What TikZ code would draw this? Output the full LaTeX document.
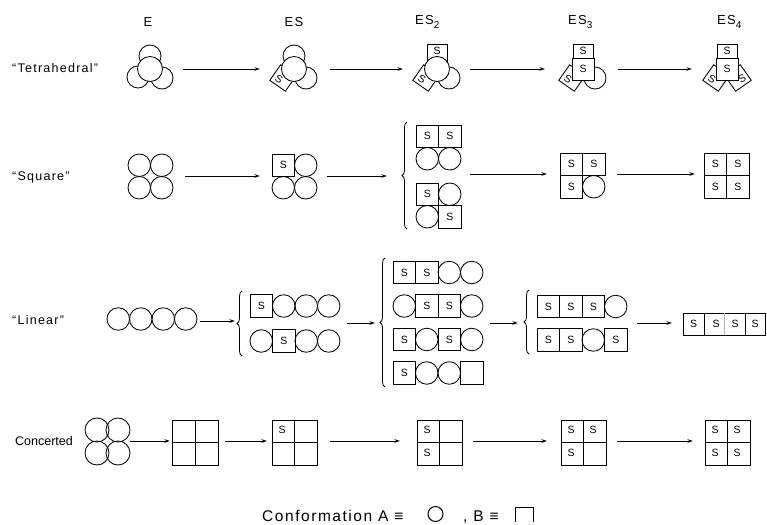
\documentclass[tikz,border=0pt]{standalone}
\usepackage{fontspec}
\setmainfont{Liberation Sans}
\newfontfamily\labfont[LetterSpace=10]{Liberation Sans}
\usetikzlibrary{arrows.meta,decorations.pathreplacing}
\newcounter{sn}
\def\hc{11.25}
\def\rr{11.25}
\tikzset{
 unit/.style={line width=0.85pt},
 slab/.style={font=\fontsize{10.5}{11}\selectfont, inner sep=0pt},
 arr/.style={line width=0.9pt,-{Stealth[length=5.5pt,width=3.5pt]}},
 rowlab/.style={font=\labfont\fontsize{12.5}{14}\selectfont, anchor=west, inner sep=0pt},
 head/.style={font=\labfont\fontsize{13}{15}\selectfont, inner sep=0pt},
 brc/.style={decorate, decoration={brace, amplitude=5pt, aspect=0.5}, line width=0.8pt},
 legtext/.style={font=\labfont\fontsize{15.5}{17}\selectfont, inner sep=0pt, anchor=base west},
}
\newcommand\Snode[2]{\stepcounter{sn}\node[slab] (s\arabic{sn}) at (#1,#2) {S};}
\newcommand\cellA[2]{\draw[unit] (#1,#2) circle[radius=\rr];}
\newcommand\cellB[2]{\draw[unit] ({#1-\hc},{#2-\hc}) rectangle ({#1+\hc},{#2+\hc});\Snode{#1}{#2}}
\newcommand\cellE[2]{\draw[unit] ({#1-\hc},{#2-\hc}) rectangle ({#1+\hc},{#2+\hc});}
\newcommand\chain[3]{\foreach \t [count=\i] in {#3}{\pgfmathsetmacro\xx{#1+(\i-0.5)*22.5}\csname cell\t\endcsname{\xx}{#2}}}
\newcommand\quadr[6]{%
 \pgfmathsetmacro\qxa{#1+11.25}\pgfmathsetmacro\qxb{#1+33.75}%
 \pgfmathsetmacro\qya{#2+11.25}\pgfmathsetmacro\qyb{#2+33.75}%
 \csname cell#3\endcsname{\qxa}{\qya}\csname cell#4\endcsname{\qxb}{\qya}%
 \csname cell#5\endcsname{\qxa}{\qyb}\csname cell#6\endcsname{\qxb}{\qyb}}
\newcommand\tetra[6]{%
 \begin{scope}[shift={(#1,#2)}]
 \ifx A#4\draw[unit,fill=white] (0,-13) circle[radius=11];\else\draw[unit,fill=white] (-10,-25) rectangle (10,-5);\Snode{0}{-18.5}\fi
 \ifx A#5\draw[unit,fill=white] (-12,8) circle[radius=11];\else\draw[unit,fill=white,shift={(-11,9)},rotate=-35] (-9.5,-9.5) rectangle (9.5,9.5);\stepcounter{sn}\node[slab,rotate=-30] (s\arabic{sn}) at (-15,10) {S};\fi
 \ifx A#6\draw[unit,fill=white] (12,9) circle[radius=11];\else\draw[unit,fill=white,shift={(11,9)},rotate=35] (-9.5,-9.5) rectangle (9.5,9.5);\stepcounter{sn}\node[slab,rotate=30] (s\arabic{sn}) at (15,10) {S};\fi
 \ifx A#3\draw[unit,fill=white] (0,0) circle[radius=12.5];\else\draw[unit,fill=white] (-11,-11) rectangle (11,11);\Snode{0}{0}\fi
 \end{scope}}
\newcommand\grid[6]{%
 \draw[unit] (#1,#2) rectangle ({#1+45.5},{#2+45.5});
 \draw[unit] ({#1+22.75},#2) -- ({#1+22.75},{#2+45.5});
 \draw[unit] (#1,{#2+22.75}) -- ({#1+45.5},{#2+22.75});
 \foreach \lab/\dx/\dy in {#3/10/10,#4/32/10,#5/10/33,#6/32/33}{\stepcounter{sn}\node[slab] (s\arabic{sn}) at ({#1+\dx},{#2+\dy}) {\lab};}}
\newcommand\conn[4]{\coordinate (#1s) at (#2,#4);\coordinate (#1e) at (#3,#4);\draw[arr] (#1s) -- (#1e);}
\begin{document}
\begin{tikzpicture}[x=1pt,y=-1pt]
\useasboundingbox (0,0) rectangle (767,524);
% headers
\node[head] (hE) at (148,22) {E};
\node[head] (hES) at (294,22) {ES};
\node[head,anchor=west] (hES2) at (415,22) {ES\raisebox{-3.5pt}{\fontsize{10}{10}\selectfont 2}};
\node[head,anchor=west] (hES3) at (568,22) {ES\raisebox{-3.5pt}{\fontsize{10}{10}\selectfont 3}};
\node[head,anchor=west] (hES4) at (717,22) {ES\raisebox{-3.5pt}{\fontsize{10}{10}\selectfont 4}};
% row labels
\node[rowlab] (lT) at (12,68) {“Tetrahedral”};
\node[rowlab] (lS) at (12,177) {“Square”};
\node[rowlab] (lL) at (12,320) {“Linear”};
\node[rowlab,font=\fontsize{12.5}{14}\selectfont] (lC) at (15,441) {Concerted};
% row 1 tetrahedral
\tetra{150}{69}{A}{A}{A}{A}
\tetra{294}{69}{A}{A}{B}{A}
\tetra{437}{69}{A}{B}{B}{A}
\tetra{583}{69}{B}{B}{B}{A}
\tetra{727}{69}{B}{B}{B}{B}
\conn{t1}{183}{260}{69}
\conn{t2}{330}{403}{69}
\conn{t3}{470}{545}{69}
\conn{t4}{618}{692}{69}
% row 2 square
\quadr{128}{154}{A}{A}{A}{A}
\quadr{272}{154}{B}{A}{A}{A}
\quadr{416}{125}{B}{B}{A}{A}
\quadr{416}{183}{B}{A}{A}{B}
\draw[brc] (407,229) -- (407,122);
\quadr{560}{153}{B}{B}{B}{A}
\quadr{704}{153}{B}{B}{B}{B}
\conn{q1}{185}{260}{176}
\conn{q2}{327}{387}{176}
\conn{q3}{470}{547}{174}
\conn{q4}{617}{695}{174}
% row 3 linear
\chain{107}{319}{A,A,A,A}
\conn{l1}{200}{235}{321}
\draw[brc] (242,356) -- (242,291);
\chain{250}{306}{B,A,A,A}
\chain{250}{341}{A,B,A,A}
\conn{l2}{347}{375}{323}
\draw[brc] (385,387) -- (385,258);
\chain{393}{272.5}{B,B,A,A}
\chain{393}{306}{A,B,B,A}
\chain{393}{339.5}{B,A,B,A}
\chain{393}{373}{B,A,A,E}
\conn{l3}{490}{518}{323}
\draw[brc] (529,354) -- (529,290);
\chain{537}{306.5}{B,B,B,A}
\chain{537}{340}{B,B,A,B}
\conn{l4}{637}{672}{323}
\draw[unit] (683,313) rectangle (765,335);
\draw[unit] (704,313) -- (704,335);
\draw[unit,black!30] (724.5,313) -- (724.5,335);
\draw[unit] (745,313) -- (745,335);
\Snode{693.5}{324}\Snode{716}{324}\Snode{735}{324}\Snode{755}{324}
% row 4 concerted
\draw[unit] (97,430) circle[radius=12];
\draw[unit] (118,430) circle[radius=12];
\draw[unit] (97,453) circle[radius=12];
\draw[unit] (118,453) circle[radius=12];
\grid{172.5}{420}{}{}{}{}
\grid{272}{420}{S}{}{}{}
\grid{417}{420}{S}{}{S}{}
\grid{561}{420}{S}{S}{S}{}
\grid{705}{420}{S}{S}{S}{S}
\conn{c1}{130}{170}{441}
\conn{c2}{225}{267}{441}
\conn{c3}{330}{400}{441}
\conn{c4}{473}{547}{441}
\conn{c5}{617}{693}{441}
% legend
\node[legtext] (leg1) at (262,521) {Conformation A ≡};
\draw[line width=1pt] (435.5,514) circle[radius=7.5];
\node[legtext] (leg2) at (463,521) {, B ≡};
\draw[line width=1pt] (515,522) -- (515,507) -- (533,507) -- (533,522);
\end{tikzpicture}
\end{document}
